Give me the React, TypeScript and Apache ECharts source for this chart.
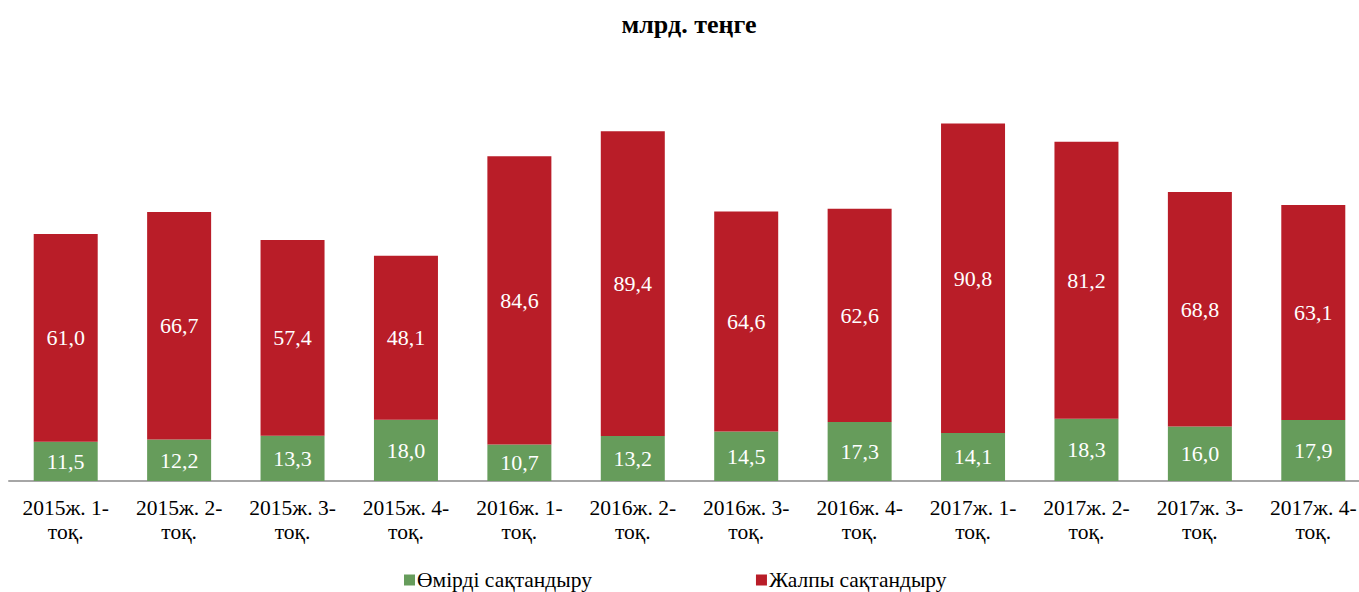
import React, { useEffect, useRef } from "react";
import * as echarts from "echarts";

const categories = [
  "2015ж. 1-\nтоқ.", "2015ж. 2-\nтоқ.", "2015ж. 3-\nтоқ.", "2015ж. 4-\nтоқ.",
  "2016ж. 1-\nтоқ.", "2016ж. 2-\nтоқ.", "2016ж. 3-\nтоқ.", "2016ж. 4-\nтоқ.",
  "2017ж. 1-\nтоқ.", "2017ж. 2-\nтоқ.", "2017ж. 3-\nтоқ.", "2017ж. 4-\nтоқ.",
];
const lifeInsurance = [11.5, 12.2, 13.3, 18.0, 10.7, 13.2, 14.5, 17.3, 14.1, 18.3, 16.0, 17.9];
const generalInsurance = [61.0, 66.7, 57.4, 48.1, 84.6, 89.4, 64.6, 62.6, 90.8, 81.2, 68.8, 63.1];
const seriesNames = ["Өмірді сақтандыру", "Жалпы сақтандыру"];
const titleText = "млрд. теңге";

const FONT = "Liberation Serif";

export default function App() {
  const ref = useRef<HTMLDivElement>(null);
  useEffect(() => {
    if (!ref.current) return;
    const chart = echarts.init(ref.current, undefined, { renderer: "svg" });
    const fmt = (p: any) => Number(p.value).toFixed(1).replace(".", ",");
    chart.setOption({
      animation: false,
      textStyle: { fontFamily: FONT },
      title: {
        text: titleText,
        left: 689,
        textAlign: "center",
        top: 11,
        padding: 0,
        textStyle: { fontFamily: FONT, fontWeight: "bold", fontSize: 26, color: "#000" },
      },
      legend: {
        left: 404,
        top: 569,
        padding: 0,
        itemWidth: 11,
        itemHeight: 11,
        itemGap: 164,
        icon: "rect",
        textStyle: { fontFamily: FONT, fontSize: 21.5, color: "#000", padding: [0, 0, 0, -3] },
        data: seriesNames,
      },
      grid: { left: 9, top: 72, width: 1361, height: 409, containLabel: false },
      xAxis: {
        type: "category",
        data: categories,
        axisLine: { lineStyle: { color: "#a6a6a6", width: 2 } },
        axisTick: { show: false },
        axisLabel: {
          fontFamily: FONT,
          fontSize: 21.5,
          color: "#000",
          lineHeight: 24,
          margin: 15,
          interval: 0,
        },
      },
      yAxis: {
        type: "value",
        min: 0,
        max: 120,
        show: false,
        splitLine: { show: false },
      },
      series: [
        {
          name: seriesNames[0],
          type: "bar",
          stack: "total",
          barWidth: 64,
          data: lifeInsurance,
          itemStyle: { color: "#669c5b" },
          label: {
            show: true,
            position: "inside",
            formatter: fmt,
            color: "#fff",
            fontFamily: FONT,
            fontSize: 22,
          },
        },
        {
          name: seriesNames[1],
          type: "bar",
          stack: "total",
          barWidth: 64,
          data: generalInsurance,
          itemStyle: { color: "#b91d28" },
          label: {
            show: true,
            position: "inside",
            formatter: fmt,
            color: "#fff",
            fontFamily: FONT,
            fontSize: 22,
          },
        },
      ],
    });
    return () => chart.dispose();
  }, []);
  return (
    <div
      style={{ position: "absolute", left: 0, top: 0, width: 1359, height: 592, overflow: "hidden" }}
    >
      <div ref={ref} style={{ width: 1380, height: 592 }} />
    </div>
  );
}
